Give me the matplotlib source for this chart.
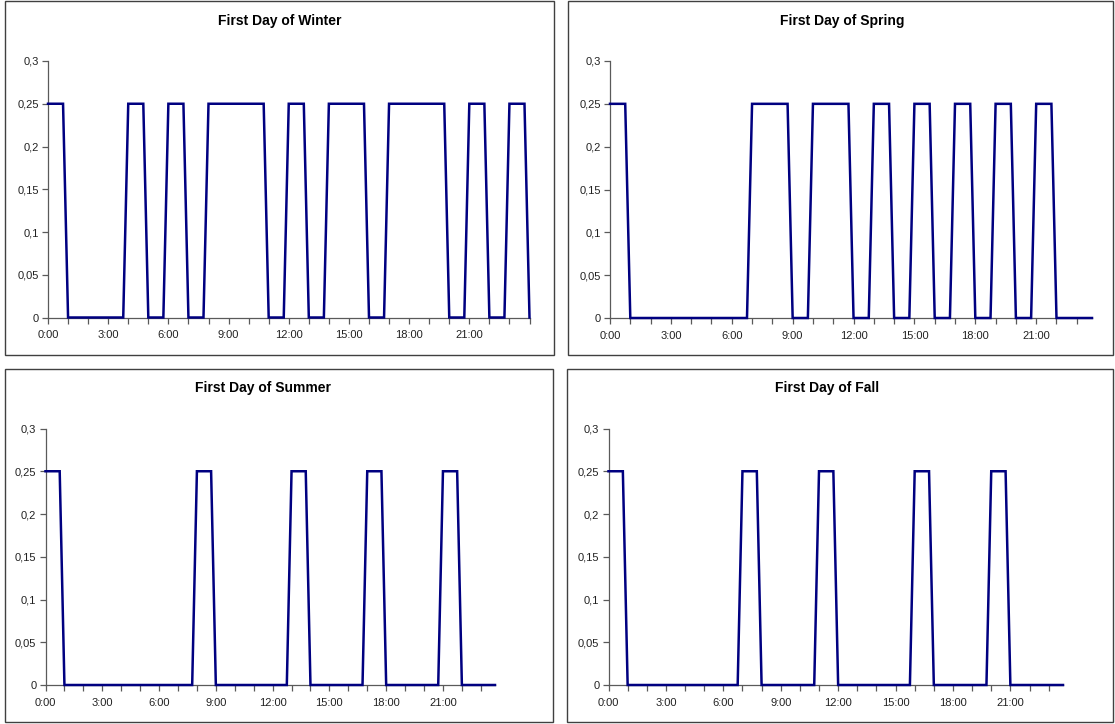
import numpy as np
import matplotlib
matplotlib.use("Agg")
import matplotlib.pyplot as plt
from matplotlib.patches import Rectangle

# =====================================================================
# DATA (hourly on/off level, each hour sampled every 15 minutes)
# =====================================================================

winter_hours = [0.25, 0, 0, 0, 0.25, 0, 0.25, 0, 0.25, 0.25, 0.25, 0,
                0.25, 0, 0.25, 0.25, 0, 0.25, 0.25, 0.25, 0, 0.25, 0, 0.25]
spring_hours = [0.25, 0, 0, 0, 0, 0, 0, 0.25, 0.25, 0, 0.25, 0.25,
                0, 0.25, 0, 0.25, 0, 0.25, 0, 0.25, 0, 0.25, 0, 0]
summer_hours = [0.25, 0, 0, 0, 0, 0, 0, 0, 0.25, 0, 0, 0,
                0, 0.25, 0, 0, 0, 0.25, 0, 0, 0, 0.25, 0, 0]
fall_hours = [0.25, 0, 0, 0, 0, 0, 0, 0.25, 0, 0, 0, 0.25,
              0, 0, 0, 0, 0.25, 0, 0, 0, 0.25, 0, 0, 0]

titles = ["First Day of Winter", "First Day of Spring",
          "First Day of Summer", "First Day of Fall"]

y_ticks = [0, 0.05, 0.1, 0.15, 0.2, 0.25, 0.3]
y_tick_labels = ["0", "0,05", "0,1", "0,15", "0,2", "0,25", "0,3"]
x_label_hours = [0, 3, 6, 9, 12, 15, 18, 21]
x_tick_labels = ["0:00", "3:00", "6:00", "9:00", "12:00", "15:00", "18:00", "21:00"]

# =====================================================================
# LAYOUT (pixels)
# =====================================================================

W, H = 1115, 724
LINE_COLOR = "#000080"
AXIS_COLOR = "#5a5a5a"

plt.rcParams["font.family"] = ["Liberation Sans", "DejaVu Sans"]

# plot area: left, top, right, bottom ; chart box ; title centre ; ends at 24:00
panels = [
    dict(hours=winter_hours, plot=(48, 61, 529.5, 317.5),
         box=(5, 1, 554, 355), title_xy=(280, 21), to_midnight=True),
    dict(hours=spring_hours, plot=(610, 61, 1092, 318),
         box=(567.5, 1, 1113, 355), title_xy=(842, 21), to_midnight=False),
    dict(hours=summer_hours, plot=(45.5, 428.5, 495, 685),
         box=(5, 369, 553, 722), title_xy=(263, 388), to_midnight=False),
    dict(hours=fall_hours, plot=(608.5, 428.5, 1063, 685),
         box=(567, 369, 1113, 722), title_xy=(827, 388), to_midnight=False),
]


def build_series(hours, to_midnight):
    values = np.repeat(np.array(hours, dtype=float), 4)
    if to_midnight:
        values = np.append(values, 0.0)
    x = np.arange(len(values)) / 4.0
    return x, values


fig = plt.figure(figsize=(W / 100, H / 100), dpi=100)
fig.patch.set_facecolor("white")

for p, title in zip(panels, titles):
    # chart box
    bx0, by0, bx1, by1 = p["box"]
    fig.patches.append(
        Rectangle(
            (bx0 / W, 1 - by1 / H),
            (bx1 - bx0) / W,
            (by1 - by0) / H,
            transform=fig.transFigure,
            fill=False,
            edgecolor="#404040",
            linewidth=1.0,
            zorder=0
        )
    )

    fig.text(
        p["title_xy"][0] / W,
        1 - p["title_xy"][1] / H,
        title,
        ha="center",
        va="center",
        fontsize=10,
        fontweight="bold"
    )

    x0, y0, x1, y1 = p["plot"]
    ax = fig.add_axes([x0 / W, 1 - y1 / H, (x1 - x0) / W, (y1 - y0) / H])

    x, values = build_series(p["hours"], p["to_midnight"])
    ax.plot(x, values, color=LINE_COLOR, linewidth=1.8, clip_on=False,
            solid_joinstyle="miter", zorder=5)

    ax.set_xlim(x[0], x[-1])
    ax.set_ylim(0, 0.3)

    ax.set_yticks(y_ticks)
    ax.set_yticklabels(y_tick_labels)

    ax.set_xticks(np.arange(0, x[-1] + 0.01, 1.0), minor=True)
    ax.set_xticks(x_label_hours)
    ax.set_xticklabels(x_tick_labels)

    for side in ["top", "right"]:
        ax.spines[side].set_visible(False)
    for side in ["left", "bottom"]:
        ax.spines[side].set_color(AXIS_COLOR)
        ax.spines[side].set_linewidth(0.9)

    ax.tick_params(axis="both", which="both", direction="out",
                   color=AXIS_COLOR, width=0.9, length=4,
                   labelsize=8, labelcolor="#222222")
    ax.tick_params(axis="y", pad=2.5)
    ax.tick_params(axis="x", pad=5)
    ax.patch.set_alpha(0)

fig.savefig("out.png", dpi=100, facecolor="white")
